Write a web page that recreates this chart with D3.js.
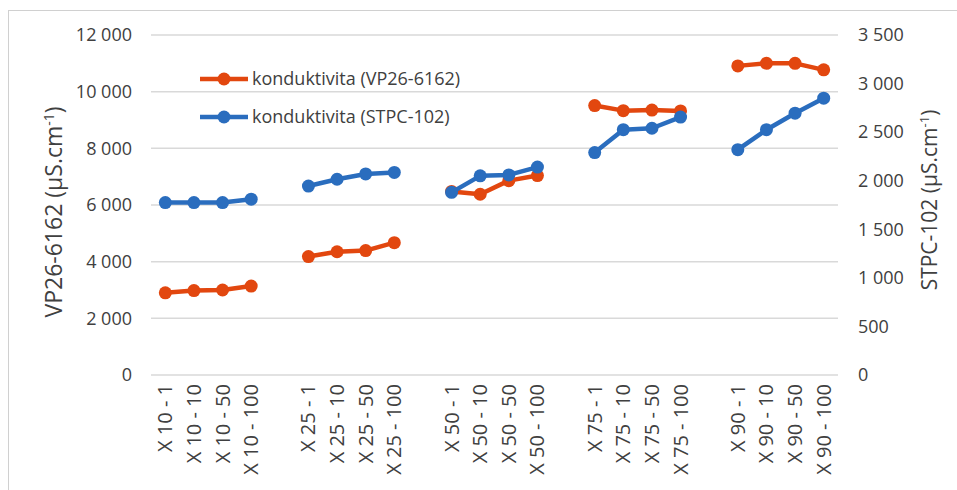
<!DOCTYPE html>
<meta charset="utf-8">
<style>
body { margin: 0; background: #fff; }
text { font-family: "Open Sans", "Noto Sans", sans-serif; fill: #404040; }
.grid line { stroke: #d9d9d9; stroke-width: 1.5px; }
.line { fill: none; stroke-width: 4.5px; stroke-linejoin: round; }
</style>
<body>
<svg width="957" height="490"></svg>
<script src="https://d3js.org/d3.v7.min.js"></script>
<script>

// categories, "" = gap between groups
var categories = ["X 10 - 1", "X 10 - 10", "X 10 - 50", "X 10 - 100", "",
                  "X 25 - 1", "X 25 - 10", "X 25 - 50", "X 25 - 100", "",
                  "X 50 - 1", "X 50 - 10", "X 50 - 50", "X 50 - 100", "",
                  "X 75 - 1", "X 75 - 10", "X 75 - 50", "X 75 - 100", "",
                  "X 90 - 1", "X 90 - 10", "X 90 - 50", "X 90 - 100"];

// VP26-6162, left axis
var vp = [2900, 2980, 3000, 3140, null,
          4180, 4350, 4390, 4670, null,
          6480, 6380, 6860, 7040, null,
          9510, 9330, 9350, 9320, null,
          10910, 11000, 11000, 10770];

// STPC-102, right axis
var stpc = [1775, 1775, 1775, 1810, null,
            1945, 2015, 2070, 2085, null,
            1880, 2050, 2060, 2140, null,
            2290, 2525, 2540, 2655, null,
            2320, 2525, 2695, 2850];

var leftTicks = [0, 2000, 4000, 6000, 8000, 10000, 12000];
var rightTicks = [0, 500, 1000, 1500, 2000, 2500, 3000, 3500];

var orange = "#e2470f", blue = "#2a6dbe";

var svg = d3.select("svg");

// outer frame
svg.append("rect")
    .attr("x", 8.5).attr("y", 10.5)
    .attr("width", 960).attr("height", 490)
    .attr("fill", "none").attr("stroke", "#d0d0d0");

var pLeft = 151, pRight = 838, pTop = 35, pBottom = 375;

var x = d3.scaleBand().domain(d3.range(categories.length)).range([pLeft, pRight]);
var yL = d3.scaleLinear().domain([0, 12000]).range([pBottom, pTop]);
var yR = d3.scaleLinear().domain([0, 3500]).range([pBottom, pTop]);

var fmt = function(d) { return d3.format(",")(d).replace(/,/g, " "); };

// gridlines
svg.append("g").attr("class", "grid")
  .selectAll("line").data(leftTicks).join("line")
    .attr("x1", pLeft).attr("x2", pRight)
    .attr("y1", function(d) { return yL(d); })
    .attr("y2", function(d) { return yL(d); });

// left axis
var la = svg.append("g")
    .attr("transform", "translate(132,0)")
    .call(d3.axisLeft(yL).tickValues(leftTicks).tickSize(0).tickPadding(0).tickFormat(fmt));
la.select(".domain").remove();
la.selectAll("text").attr("font-size", "18px").attr("fill", "#404040")
    .style("font-family", "'Open Sans', sans-serif");

// right axis
var ra = svg.append("g")
    .attr("transform", "translate(858,0)")
    .call(d3.axisRight(yR).tickValues(rightTicks).tickSize(0).tickPadding(0).tickFormat(fmt));
ra.select(".domain").remove();
ra.selectAll("text").attr("font-size", "18px").attr("fill", "#404040")
    .style("font-family", "'Open Sans', sans-serif");

// x labels
var xa = svg.append("g")
    .attr("transform", "translate(0," + (pBottom + 9) + ")")
    .call(d3.axisBottom(x).tickSize(0).tickFormat(function(i) { return categories[i]; }));
xa.select(".domain").remove();
xa.selectAll("text")
    .attr("font-size", "20px").attr("fill", "#404040")
    .style("font-family", "'Open Sans', sans-serif")
    .attr("text-anchor", "end")
    .attr("transform", "rotate(-90)")
    .attr("x", 0).attr("y", 0).attr("dy", "0.35em");

// axis titles
svg.append("text")
    .attr("transform", "translate(62,212) rotate(-90)")
    .attr("text-anchor", "middle").attr("font-size", "23px")
    .html("VP26-6162 (µS.cm<tspan dy='-8' font-size='14px'>-1</tspan><tspan dy='8'>)</tspan>");

svg.append("text")
    .attr("transform", "translate(937,200) rotate(-90)")
    .attr("text-anchor", "middle").attr("font-size", "21px")
    .html("STPC-102 (µS.cm<tspan dy='-8' font-size='13px'>-1</tspan><tspan dy='8'>)</tspan>");

// series
function drawSeries(vals, y, color) {
  var line = d3.line()
      .defined(function(d) { return d != null; })
      .x(function(d, i) { return x(i) + x.bandwidth() / 2; })
      .y(function(d) { return y(d); });
  svg.append("path").datum(vals).attr("class", "line")
      .attr("stroke", color).attr("d", line);
  svg.append("g").selectAll("circle")
    .data(vals.map(function(v, i) { return {v: v, i: i}; }).filter(function(d) { return d.v != null; }))
    .join("circle")
      .attr("cx", function(d) { return x(d.i) + x.bandwidth() / 2; })
      .attr("cy", function(d) { return y(d.v); })
      .attr("r", 6.5)
      .attr("fill", color);
}
drawSeries(vp, yL, orange);
drawSeries(stpc, yR, blue);

// legend
var legend = [{name: "konduktivita (VP26-6162)", color: orange},
              {name: "konduktivita (STPC-102)", color: blue}];
var lg = svg.append("g").selectAll("g").data(legend).join("g")
    .attr("transform", function(d, i) { return "translate(200," + (79 + i * 38) + ")"; });
lg.append("line").attr("x1", 0).attr("x2", 48)
    .attr("stroke", function(d) { return d.color; }).attr("stroke-width", 4.5);
lg.append("circle").attr("cx", 24).attr("r", 6.5)
    .attr("fill", function(d) { return d.color; });
lg.append("text").attr("x", 52).attr("dy", "0.35em")
    .attr("font-size", "18px").text(function(d) { return d.name; });

</script>
</body>
